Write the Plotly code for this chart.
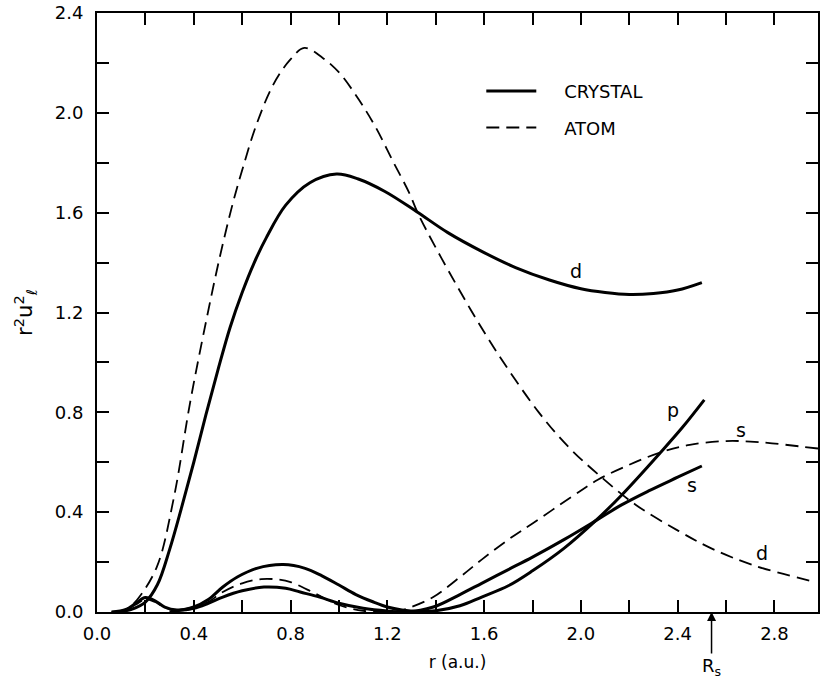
import plotly.graph_objects as go

# ---- data ----
r_cd = [0.08, 0.14, 0.20, 0.25, 0.30, 0.35, 0.40, 0.45, 0.50, 0.55, 0.60, 0.65, 0.70, 0.78, 0.88, 0.99,
        1.08, 1.19, 1.32, 1.45, 1.60, 1.73, 1.87, 2.00, 2.10, 2.20, 2.30, 2.40, 2.50]
v_cd = [0.0, 0.01, 0.04, 0.11, 0.25, 0.42, 0.60, 0.79, 0.97, 1.14, 1.28, 1.40, 1.50, 1.63, 1.72, 1.755,
        1.735, 1.685, 1.605, 1.52, 1.44, 1.38, 1.33, 1.295, 1.28, 1.272, 1.276, 1.29, 1.32]

r_cs = [0.06, 0.12, 0.16, 0.20, 0.24, 0.28, 0.33, 0.40, 0.46, 0.52, 0.60, 0.69, 0.78, 0.84, 0.92, 1.00,
        1.10, 1.20, 1.28, 1.39, 1.50, 1.59, 1.70, 1.80, 1.93, 2.06, 2.17, 2.28, 2.40, 2.50]
v_cs = [0.0, 0.01, 0.035, 0.058, 0.045, 0.02, 0.008, 0.015, 0.035, 0.06, 0.085, 0.10, 0.095, 0.08, 0.06, 0.035,
        0.015, 0.004, 0.0, 0.02, 0.07, 0.115, 0.17, 0.22, 0.29, 0.365, 0.43, 0.485, 0.54, 0.585]

r_cp = [0.30, 0.40, 0.46, 0.52, 0.58, 0.66, 0.77, 0.86, 0.93, 1.00, 1.07, 1.14, 1.20, 1.26, 1.33, 1.40,
        1.50, 1.59, 1.70, 1.80, 1.93, 2.06, 2.17, 2.33, 2.42, 2.51]
v_cp = [0.0, 0.02, 0.05, 0.10, 0.14, 0.175, 0.19, 0.175, 0.145, 0.108, 0.07, 0.041, 0.02, 0.008, 0.002, 0.005,
        0.025, 0.06, 0.105, 0.165, 0.255, 0.365, 0.47, 0.64, 0.74, 0.85]

r_ad = [0.08, 0.12, 0.165, 0.247, 0.316, 0.385, 0.452, 0.507, 0.562, 0.603, 0.658, 0.727, 0.796, 0.857,
        0.933, 1.002, 1.084, 1.153, 1.221, 1.29, 1.33, 1.48, 1.64, 1.826, 1.95, 2.073, 2.226, 2.403,
        2.539, 2.72, 2.97]
v_ad = [0.0, 0.01, 0.048, 0.18, 0.45, 0.84, 1.17, 1.42, 1.64, 1.78, 1.95, 2.11, 2.21, 2.26,
        2.22, 2.16, 2.05, 1.94, 1.81, 1.68, 1.59, 1.32, 1.06, 0.80, 0.66, 0.55, 0.43, 0.325,
        0.255, 0.185, 0.12]

r_as = [0.06, 0.12, 0.16, 0.20, 0.24, 0.28, 0.33, 0.40, 0.46, 0.52, 0.60, 0.68, 0.75, 0.80, 0.90, 1.00,
        1.10, 1.20, 1.25, 1.30, 1.39, 1.50, 1.59, 1.70, 1.80, 1.96, 2.07, 2.20, 2.33, 2.45, 2.60, 2.70,
        2.79, 2.90, 2.98]
v_as = [0.0, 0.008, 0.03, 0.05, 0.04, 0.018, 0.006, 0.015, 0.04, 0.08, 0.115, 0.132, 0.13, 0.12, 0.075, 0.028,
        0.005, 0.001, 0.005, 0.02, 0.06, 0.14, 0.21, 0.29, 0.355, 0.46, 0.53, 0.59, 0.64, 0.67, 0.685, 0.683,
        0.676, 0.664, 0.655]

x_ticks = [round(0.2 * i, 1) for i in range(16)]
x_labels = ["%.1f" % v if i % 2 == 0 else "" for i, v in enumerate(x_ticks)]
y_ticks = [round(0.2 * i, 1) for i in range(13)]
y_labels = ["%.1f" % v if i % 2 == 0 else "" for i, v in enumerate(y_ticks)]

curve_labels = [("d", 1.98, 1.365), ("p", 2.38, 0.81), ("s", 2.46, 0.51), ("s", 2.66, 0.73), ("d", 2.75, 0.235)]

FONT = "DejaVu Sans"
NB = "\u00a0"
fig = go.Figure()

solid = dict(color="black", width=3, shape="spline", smoothing=1.0)
dashed = dict(color="black", width=1.8, dash="13px,7px", shape="spline", smoothing=1.0)

fig.add_trace(go.Scatter(x=r_cd, y=v_cd, mode="lines", line=solid, name=NB * 4 + "CRYSTAL",
                         legendgroup="c", showlegend=True))
fig.add_trace(go.Scatter(x=r_cs, y=v_cs, mode="lines", line=solid, legendgroup="c", showlegend=False))
fig.add_trace(go.Scatter(x=r_cp, y=v_cp, mode="lines", line=solid, legendgroup="c", showlegend=False))
fig.add_trace(go.Scatter(x=r_ad, y=v_ad, mode="lines", line=dashed, name=NB * 4 + "ATOM",
                         legendgroup="a", showlegend=True))
fig.add_trace(go.Scatter(x=r_as, y=v_as, mode="lines", line=dashed, legendgroup="a", showlegend=False))

for t, x, y in curve_labels:
    fig.add_annotation(x=x, y=y, text=t, showarrow=False, font=dict(family=FONT, size=19, color="black"))

fig.add_annotation(x=2.54, y=0, xref="x", yref="y", text="R<sub>s</sub>", showarrow=True,
                   ax=0, ay=55, arrowhead=2, arrowsize=1.2, arrowwidth=1.5, arrowcolor="black",
                   font=dict(family=FONT, size=18, color="black"))

axis_common = dict(showline=True, linecolor="black", linewidth=2, mirror="ticks", ticks="inside",
                   ticklen=12, tickwidth=2, tickcolor="black", showgrid=False, zeroline=False,
                   tickfont=dict(family=FONT, size=18, color="black"))

fig.update_xaxes(range=[0, 2.98], tickmode="array", tickvals=x_ticks, ticktext=x_labels,
                 ticklabelstandoff=4,
                 title=dict(text="r (a.u.)", font=dict(family=FONT, size=17, color="black"), standoff=14),
                 **axis_common)
fig.update_yaxes(range=[0, 2.4], tickmode="array", tickvals=y_ticks, ticktext=y_labels,
                 ticklabelstandoff=8,
                 title=dict(text="r<sup>2</sup>u<sup>2</sup><sub>ℓ</sub>",
                            font=dict(family=FONT, size=21, color="black"), standoff=16),
                 **axis_common)

fig.update_layout(
    width=820, height=679,
    margin=dict(l=97, r=0, t=13, b=67),
    plot_bgcolor="white", paper_bgcolor="white",
    legend=dict(x=0.533, y=0.90, xanchor="left", yanchor="top", bgcolor="rgba(0,0,0,0)",
                font=dict(family=FONT, size=18, color="black"), itemwidth=50, tracegroupgap=10),
)

fig.write_html("out.html")
